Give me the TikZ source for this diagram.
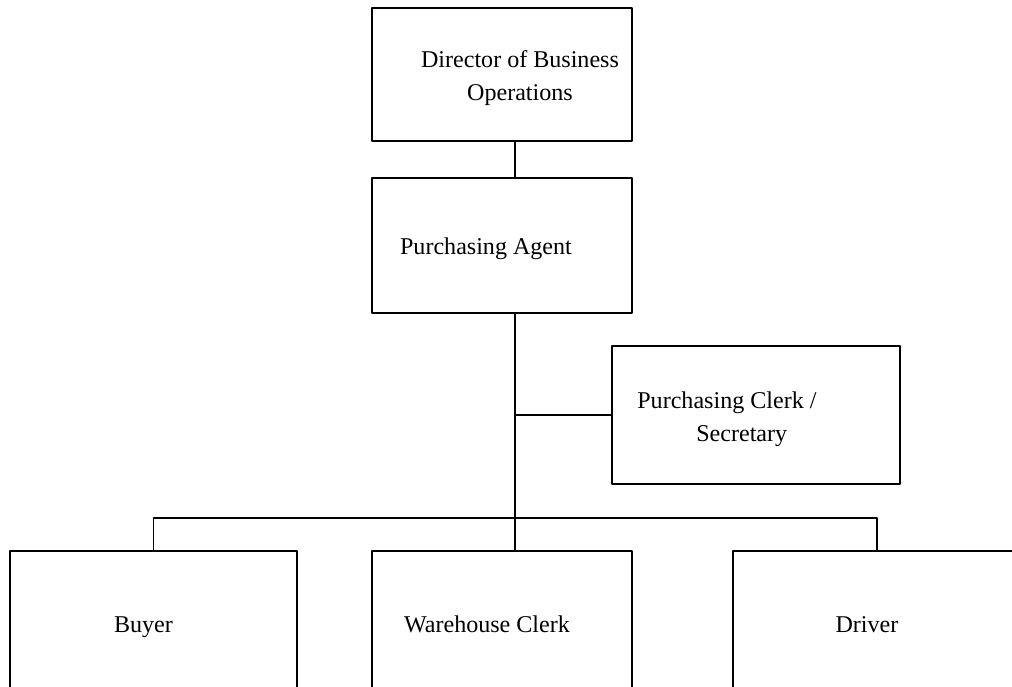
\documentclass[tikz,border=0pt]{standalone}
\usepackage{fontspec}
\setmainfont{Liberation Serif}
\usetikzlibrary{positioning, calc}

\begin{document}
\begin{tikzpicture}[x=0.02cm, y=-0.02cm, line join=round, line cap=round,
    box/.style={draw, rectangle, line width=1.1pt, inner sep=0pt},
    link/.style={line width=1.1pt},
    lbl/.style={font=\fontsize{13.7}{18.8}\selectfont, inner sep=0pt}]
      \useasboundingbox (0,0) rectangle (1012,687);
      \clip (0,0) rectangle (1012,687);
      % boxes
      \node[box, minimum width=5.2cm, minimum height=2.66cm] (dir) at (502,74.5) {};
      \node[box, minimum width=5.2cm, minimum height=2.7cm] (agent) at (502,245.5) {};
      \node[box, minimum width=5.76cm, minimum height=2.76cm] (clerk) at (756,415) {};
      \node[box, minimum width=5.74cm, minimum height=2.74cm] (buyer) at (153.5,619.5) {};
      \node[box, minimum width=5.2cm, minimum height=2.74cm] (ware) at (502,619.5) {};
      \node[box, minimum width=5.76cm, minimum height=2.74cm] (driver) at (877,619.5) {};
      \coordinate (trunk) at (515,518);
      % connectors
      \draw[link] (dir.south -| trunk) -- (agent.north -| trunk);
      \draw[link] (agent.south -| trunk) -- (ware.north -| trunk);
      \draw[link] (clerk.west) -- (clerk.west -| trunk);
      \draw[link] (buyer.north) -- (buyer.north |- trunk) -- (driver.north |- trunk) -- (driver.north);
      % labels
      \node[lbl, align=center] (dirtext) at (520,78) {Director of Business\\Operations};
      \node[lbl] (agenttext) at (486,249) {Purchasing Agent};
      \node[lbl, align=left, anchor=west] (clerktext) at (637,419) {Purchasing Clerk /\\\hspace*{1.18cm}Secretary};
      \node[lbl, anchor=base] (buyertext) at (143.5,632) {Buyer};
      \node[lbl, anchor=base] (waretext) at (487,632) {Warehouse Clerk};
      \node[lbl, anchor=base] (drivertext) at (867,632) {Driver};
    \end{tikzpicture}
\end{document}
